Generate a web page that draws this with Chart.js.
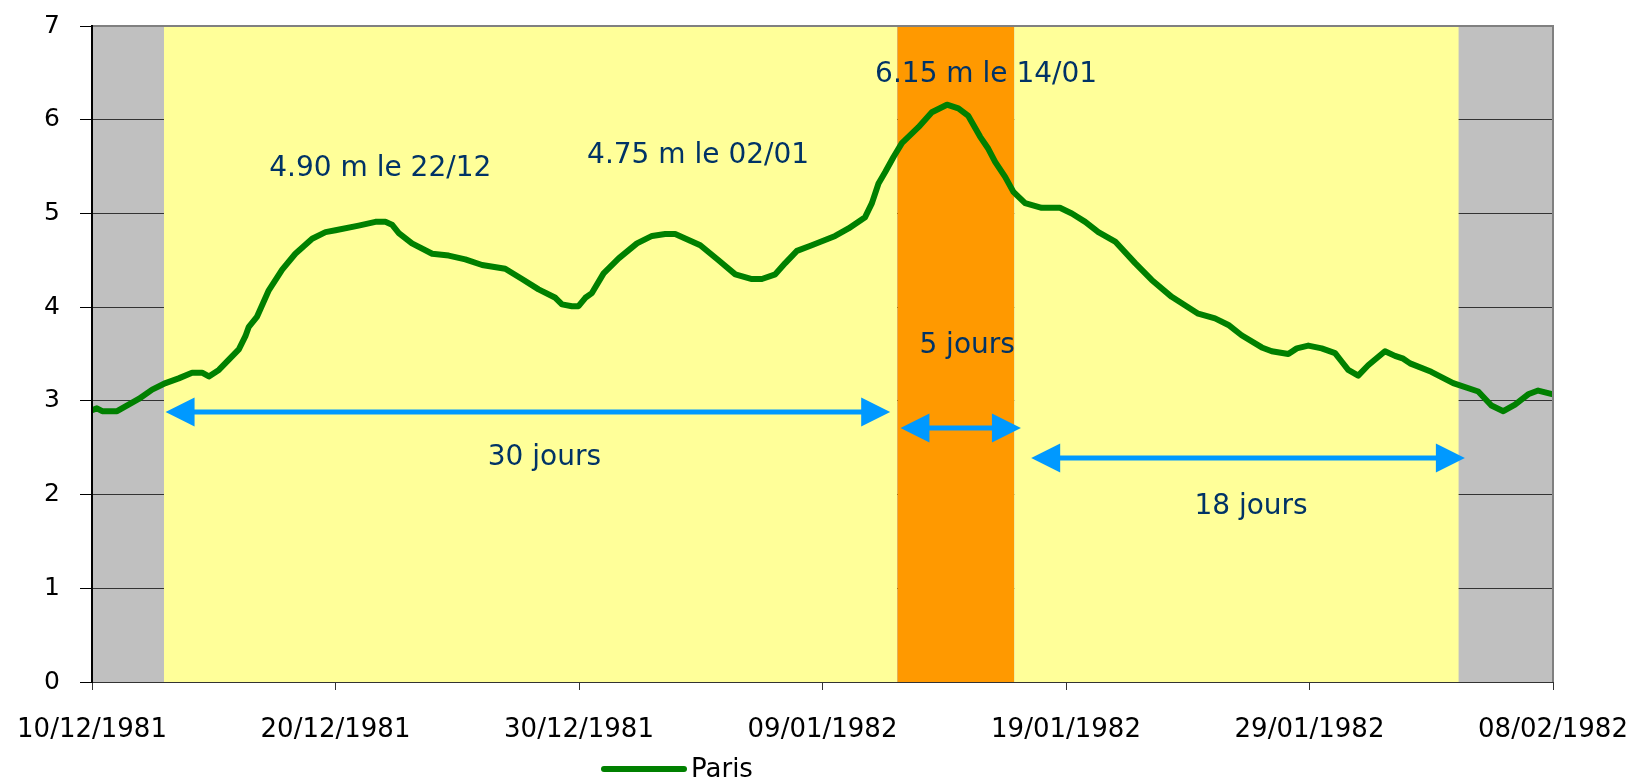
<!DOCTYPE html>
<html>
<head>
<meta charset="utf-8">
<script src="https://cdn.jsdelivr.net/npm/chart.js@4/dist/chart.umd.min.js"></script>
<style>
  body { margin: 0; background: #fff; }
  canvas { display: block; }
</style>
</head>
<body>
<canvas id="crue" width="1641" height="781"></canvas>
<script>
// jours depuis le 10/12/1981 et hauteur d'eau (m) a Paris
const days = [0, 0.2, 0.42, 1.03, 1.92, 2.47, 3.02, 3.56, 4.11, 4.52, 4.8, 5.21, 5.62, 6.03, 6.3, 6.44, 6.78,
  7.26, 7.81, 8.35, 9.04, 9.59, 10, 10.95, 11.64, 12.05, 12.32, 12.6, 13.14, 13.97, 14.65, 15.33, 16.02,
  16.97, 17.66, 18.34, 19.03, 19.3, 19.71, 19.98, 20.26, 20.53, 21.01, 21.63, 22.38, 23, 23.54, 23.95,
  24.98, 25.73, 26.42, 27.1, 27.51, 28.06, 28.47, 28.95, 29.56, 30.52, 31.07, 31.75, 32.03, 32.3, 32.57,
  32.91, 33.26, 33.94, 34.49, 35.11, 35.58, 35.99, 36.47, 36.81, 37.09, 37.5, 37.84, 38.32, 39, 39.75,
  40.24, 40.79, 41.33, 42.02, 42.84, 43.52, 44.34, 45.43, 46.12, 46.67, 47.21, 48.04, 48.45, 49.13,
  49.48, 49.95, 50.5, 51.05, 51.32, 51.59, 52, 52.41, 53.1, 53.51, 53.85, 54.13, 55, 55.9, 56.93, 57.47,
  57.96, 58.44, 58.98, 59.39, 60];
const paris = [2.90, 2.92, 2.89, 2.89, 3.02, 3.12, 3.19, 3.24, 3.30, 3.30, 3.26, 3.33, 3.44, 3.55, 3.69, 3.79, 3.90,
  4.18, 4.40, 4.57, 4.73, 4.80, 4.82, 4.87, 4.91, 4.91, 4.88, 4.79, 4.68, 4.57, 4.55, 4.51, 4.45,
  4.41, 4.30, 4.19, 4.10, 4.03, 4.01, 4.01, 4.10, 4.15, 4.36, 4.52, 4.68, 4.76, 4.78, 4.78,
  4.66, 4.50, 4.35, 4.30, 4.30, 4.35, 4.47, 4.60, 4.66, 4.76, 4.84, 4.96, 5.11, 5.32, 5.44,
  5.60, 5.75, 5.92, 6.08, 6.16, 6.12, 6.04, 5.82, 5.69, 5.55, 5.39, 5.23, 5.11, 5.06, 5.06,
  5.00, 4.91, 4.80, 4.70, 4.47, 4.29, 4.11, 3.93, 3.88, 3.81, 3.70, 3.57, 3.53, 3.50,
  3.56, 3.59, 3.56, 3.51, 3.42, 3.33, 3.27, 3.38, 3.53, 3.48, 3.45, 3.40, 3.31, 3.19, 3.10, 2.95,
  2.89, 2.96, 3.07, 3.11, 3.07];

// periodes colorees (en jours)
const bandStart = [2.95, 33.07, 37.87];
const bandEnd = [33.07, 37.87, 56.13];
const bandColor = ['#ffff99', '#ff9900', '#ffff99'];

const tickDays = [0, 10, 20, 30, 40, 50, 60];
const tickLabels = ['10/12/1981', '20/12/1981', '30/12/1981', '09/01/1982', '19/01/1982', '29/01/1982', '08/02/1982'];

const notes = [
  { text: '4.90 m le 22/12', x: 11.84, y: 5.48 },
  { text: '4.75 m le 02/01', x: 24.89, y: 5.62 },
  { text: '6.15 m le 14/01', x: 36.72, y: 6.48 },
  { text: '5 jours', x: 35.94, y: 3.59 },
  { text: '30 jours', x: 18.58, y: 2.39 },
  { text: '18 jours', x: 47.6, y: 1.875 }
];
const arrows = [
  { from: 3.02, to: 32.78, y: 2.88 },
  { from: 33.2, to: 38.15, y: 2.71 },
  { from: 38.57, to: 56.38, y: 2.39 }
];

const FONT = '"DejaVu Sans", sans-serif';

const bandSets = bandStart.map((s, i) => ({
  label: 'band' + i,
  data: [{ x: s, y: 7 }, { x: bandEnd[i], y: 7 }],
  backgroundColor: bandColor[i],
  borderWidth: 0,
  pointRadius: 0,
  fill: 'origin',
  order: 2
}));

const decor = {
  id: 'decor',
  beforeDraw(chart) {
    const { ctx, chartArea: a } = chart;
    ctx.save();
    ctx.fillStyle = '#c0c0c0';
    ctx.fillRect(a.left, a.top, a.right - a.left, a.bottom - a.top);
    ctx.restore();
  },
  afterDatasetsDraw(chart) {
    const { ctx, chartArea: a, scales: { x, y } } = chart;
    ctx.save();
    // cadre haut / droite
    ctx.strokeStyle = '#808080';
    ctx.lineWidth = 2;
    ctx.beginPath();
    ctx.moveTo(a.left, a.top);
    ctx.lineTo(a.right, a.top);
    ctx.lineTo(a.right, a.bottom);
    ctx.stroke();

    // fleches
    ctx.fillStyle = '#0099ff';
    ctx.strokeStyle = '#0099ff';
    const hl = 29, hw = 14.5;
    arrows.forEach(ar => {
      const x1 = x.getPixelForValue(ar.from), x2 = x.getPixelForValue(ar.to), py = y.getPixelForValue(ar.y);
      ctx.lineWidth = 5;
      ctx.beginPath();
      ctx.moveTo(x1 + hl - 2, py);
      ctx.lineTo(x2 - hl + 2, py);
      ctx.stroke();
      ctx.beginPath();
      ctx.moveTo(x1, py); ctx.lineTo(x1 + hl, py - hw); ctx.lineTo(x1 + hl, py + hw); ctx.closePath();
      ctx.fill();
      ctx.beginPath();
      ctx.moveTo(x2, py); ctx.lineTo(x2 - hl, py - hw); ctx.lineTo(x2 - hl, py + hw); ctx.closePath();
      ctx.fill();
    });

    // textes
    ctx.fillStyle = '#003366';
    ctx.font = '28px ' + FONT;
    ctx.textAlign = 'center';
    ctx.textBaseline = 'middle';
    notes.forEach(n => ctx.fillText(n.text, x.getPixelForValue(n.x), y.getPixelForValue(n.y)));
    ctx.restore();
  },
  afterDraw(chart) {
    // legende
    const ctx = chart.ctx;
    ctx.save();
    ctx.strokeStyle = '#008000';
    ctx.lineWidth = 6;
    ctx.lineCap = 'round';
    ctx.beginPath();
    ctx.moveTo(604, 769);
    ctx.lineTo(684, 769);
    ctx.stroke();
    ctx.fillStyle = '#000';
    ctx.font = '26px ' + FONT;
    ctx.textBaseline = 'middle';
    ctx.fillText('Paris', 691, 770);
    ctx.restore();
  }
};

Chart.defaults.color = '#000';
Chart.defaults.font.family = FONT;

new Chart(document.getElementById('crue'), {
  type: 'line',
  data: {
    datasets: [
      {
        label: 'Paris',
        data: days.map((d, i) => ({ x: d, y: paris[i] })),
        borderColor: '#008000',
        borderWidth: 6,
        borderJoinStyle: 'round',
        borderCapStyle: 'round',
        pointRadius: 0,
        tension: 0,
        fill: false,
        order: 0
      },
      ...bandSets
    ]
  },
  options: {
    responsive: false,
    animation: false,
    layout: { padding: { top: 26, right: 88, left: 0, bottom: 0 } },
    plugins: { legend: { display: false }, tooltip: { enabled: false } },
    scales: {
      x: {
        type: 'linear',
        min: 0,
        max: 60,
        afterFit(scale) {
          scale.height = 99;
          scale.paddingLeft = 0;
          scale.paddingRight = 0;
        },
        afterBuildTicks(scale) { scale.ticks = tickDays.map(v => ({ value: v })); },
        grid: { drawOnChartArea: false, drawTicks: true, tickLength: 8, tickColor: '#333' },
        border: { color: '#333', width: 1 },
        ticks: {
          autoSkip: false,
          maxRotation: 0,
          padding: 25,
          font: { size: 26 },
          callback: v => tickLabels[tickDays.indexOf(v)]
        }
      },
      y: {
        min: 0,
        max: 7,
        afterFit(scale) {
          scale.width = 92;
          scale.paddingTop = 0;
          scale.paddingBottom = 0;
        },
        grid: { color: '#333', lineWidth: 1, tickLength: 12, tickColor: '#000', z: -1 },
        border: { color: '#000', width: 2, z: 1 },
        ticks: { stepSize: 1, padding: 20, font: { size: 25 } }
      }
    }
  },
  plugins: [decor]
});
</script>
</body>
</html>
